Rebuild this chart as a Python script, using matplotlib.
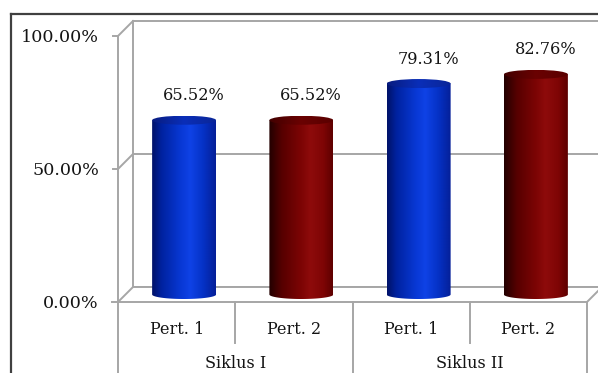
import numpy as np
import matplotlib
matplotlib.use("Agg")
import matplotlib.pyplot as plt
from matplotlib.patches import Polygon, Ellipse
from matplotlib.lines import Line2D
from matplotlib.colors import LinearSegmentedColormap
import matplotlib.transforms as mtransforms

# ---------------- data ----------------
pert_labels = ["Pert. 1", "Pert. 2", "Pert. 1", "Pert. 2"]
group_labels = ["Siklus I", "Siklus II"]
values = [65.52, 65.52, 79.31, 82.76]
series_kind = ["blue", "red", "blue", "red"]
yticks = [0, 50, 100]
ytick_labels = ["0.00%", "50.00%", "100.00%"]

# ---------------- style ----------------
W, H = 598, 373
DPI = 100
FONT = "DejaVu Serif"
GRID = "#a6a6a6"
TXT = "#141414"
DEPTH = 15.0           # px, 3-D depth offset
BAR_W_PX = 64.0
ELL_H_PX = 9.0

body_stops = {
    "blue": [(0.0, "#001268"), (0.15, "#0022a0"), (0.45, "#0838d4"), (0.6, "#0f42e6"),
             (0.8, "#0532c6"), (1.0, "#051f98")],
    "red": [(0.0, "#220000"), (0.2, "#560000"), (0.5, "#7c0404"), (0.65, "#8e0b0b"),
            (0.85, "#7e0505"), (1.0, "#5e0000")],
}
top_stops = {
    "blue": [(0.0, "#081c80"), (0.5, "#0a2eb8"), (1.0, "#0a2698")],
    "red": [(0.0, "#420000"), (0.5, "#6a0202"), (1.0, "#5a0000")],
}

fig = plt.figure(figsize=(W / DPI, H / DPI), dpi=DPI)
fig.patch.set_facecolor("white")

x_left_px, x_right_px = 118, 587
y_bot_px, y_top_px = 302, 36
ax = fig.add_axes([x_left_px / W, (H - y_bot_px) / H,
                   (x_right_px - x_left_px) / W, (y_bot_px - y_top_px) / H])
ax.set_xlim(-0.5, len(values) - 0.5)
ax.set_ylim(0, 100)
ax.axis("off")

px_x = (x_right_px - x_left_px) / len(values)   # px per category
px_y = (y_bot_px - y_top_px) / 100.0            # px per percent
dx = DEPTH / px_x
dy = DEPTH / px_y

tr = ax.transData
tr_back = mtransforms.offset_copy(tr, fig=fig, x=DEPTH, y=DEPTH, units="dots")
tr_mid = mtransforms.offset_copy(tr, fig=fig, x=DEPTH / 2, y=DEPTH / 2, units="dots")

xmin, xmax = -0.5, len(values) - 0.5
lw = 1.4

# back wall gridlines + side diagonals + tick marks
for t, tl in zip(yticks, ytick_labels):
    ax.add_line(Line2D([xmin + dx, xmax + dx + 0.5], [t + dy, t + dy], color=GRID, lw=lw,
                       clip_on=False, zorder=1))
    if t > 0:
        ax.add_line(Line2D([xmin, xmin + dx], [t, t + dy], color=GRID, lw=lw, clip_on=False, zorder=1))
        ax.add_line(Line2D([xmin - 5 / px_x, xmin], [t, t], color=GRID, lw=lw, clip_on=False, zorder=1))
    ty = mtransforms.offset_copy(tr, fig=fig, x=0, y=-1.5, units="dots")
    ax.text(xmin - 19 / px_x, t, tl, transform=ty, ha="right", va="center",
            fontsize=12.6, family=FONT, color=TXT, clip_on=False)

# back wall left edge
ax.add_line(Line2D([xmin + dx, xmin + dx], [0 + dy, 100 + dy], color=GRID, lw=lw, clip_on=False, zorder=1))

# floor
floor = Polygon([(xmin, 0), (xmax, 0), (xmax + dx, dy), (xmin + dx, dy)], closed=True,
                facecolor="white", edgecolor=GRID, lw=lw, clip_on=False, zorder=2)
ax.add_patch(floor)
ax.add_line(Line2D([xmin - 6 / px_x, xmin], [0, 0], color=GRID, lw=lw, clip_on=False, zorder=2))

# front axis line and category table lines
xa = ax.get_xaxis_transform()
y_bottom_frac = -(H - y_bot_px + 5) / (y_bot_px - y_top_px)
y_mid_frac = -(343 - y_bot_px) / (y_bot_px - y_top_px)
ax.add_line(Line2D([xmin, xmin], [1.0, 0.0], transform=xa, color=GRID, lw=lw, clip_on=False, zorder=2))
for i in range(len(values) + 1):
    xb = xmin + i
    bottom = y_bottom_frac if i % 2 == 0 else y_mid_frac
    ax.add_line(Line2D([xb, xb], [0.0, bottom], transform=xa, color=GRID, lw=lw,
                       clip_on=False, zorder=2))

# category labels
pert_y = -(329 - y_bot_px) / (y_bot_px - y_top_px)
grp_y = -(368 - y_bot_px) / (y_bot_px - y_top_px)
for i, lab in enumerate(pert_labels):
    ax.text(i, pert_y, lab, transform=xa, ha="center", va="center", fontsize=11.5,
            family=FONT, color=TXT, clip_on=False)
for g, lab in enumerate(group_labels):
    ax.text(2 * g + 0.5, grp_y, lab, transform=xa, ha="center", va="baseline", fontsize=11.5,
            family=FONT, color=TXT, clip_on=False)

# cylinders
bw = BAR_W_PX / px_x
eh = ELL_H_PX / px_y
bars = ax.bar(range(len(values)), values, width=bw, color="none", transform=tr_mid, zorder=3)
theta = np.linspace(np.pi, 2 * np.pi, 60)
for i, (bar, v, kind) in enumerate(zip(bars, values, series_kind)):
    xc = bar.get_x() + bar.get_width() / 2
    x0, x1 = xc - bw / 2, xc + bw / 2
    verts = [(x0, v)] + [(xc + bw / 2 * np.cos(t), 0 + eh / 2 * np.sin(t)) for t in theta] + [(x1, v)]
    clip = Polygon(verts, closed=True, transform=tr_mid)
    cmap = LinearSegmentedColormap.from_list("b%d" % i, body_stops[kind])
    grad = cmap(np.linspace(0, 1, 256))[np.newaxis, :, :3]
    im = ax.imshow(grad, extent=(x0, x1, -eh / 2, v), aspect="auto", transform=tr_mid,
                   interpolation="bilinear", zorder=3)
    im.set_clip_path(clip)
    # top ellipse
    top = Ellipse((xc, v), bw, eh, transform=tr_mid)
    cmap_t = LinearSegmentedColormap.from_list("t%d" % i, top_stops[kind])
    grad_t = cmap_t(np.linspace(0, 1, 256))[np.newaxis, :, :3]
    im2 = ax.imshow(grad_t, extent=(x0, x1, v - eh / 2, v + eh / 2), aspect="auto",
                    transform=tr_mid, interpolation="bilinear", zorder=4)
    im2.set_clip_path(top)
    # data label
    tr_lab = mtransforms.offset_copy(tr_back, fig=fig, x=2, y=17, units="dots")
    ax.text(xc, v, f"{v:.2f}%", transform=tr_lab, ha="center", va="center",
            fontsize=11.6, family=FONT, color=TXT, zorder=5)

ax.set_xlim(-0.5, len(values) - 0.5)
ax.set_ylim(0, 100)

# outer chart border (left and top visible)
fig.add_artist(Line2D([11 / W, 11 / W], [0, 1 - 14 / H], transform=fig.transFigure,
                      color="#404040", lw=1.6))
fig.add_artist(Line2D([11 / W, 1], [1 - 14 / H, 1 - 14 / H], transform=fig.transFigure,
                      color="#404040", lw=1.6))

fig.savefig("out.png", dpi=DPI, facecolor="white")
